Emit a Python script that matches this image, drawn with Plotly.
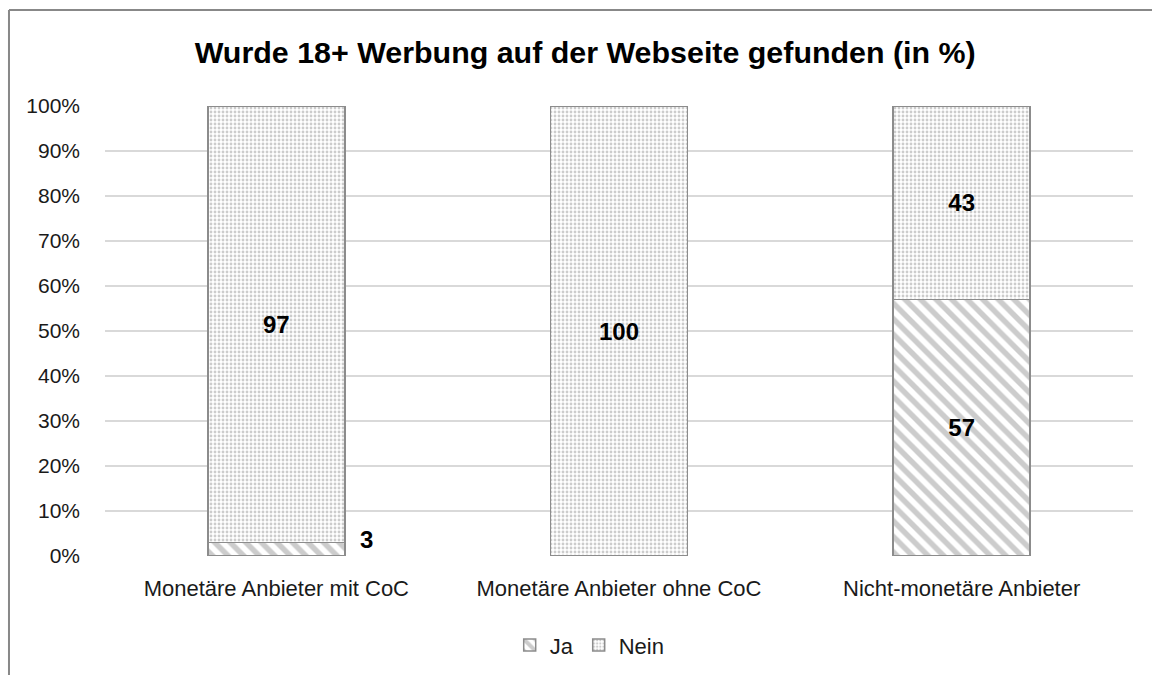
import plotly.graph_objects as go

categories = ["Monetäre Anbieter mit CoC", "Monetäre Anbieter ohne CoC", "Nicht-monetäre Anbieter"]
ja = [3, 0, 57]
nein = [97, 100, 43]
y_ticks = list(range(0, 101, 10))
y_ticklabels = [f"{v}%" for v in y_ticks]

font = "Liberation Sans, Arial, sans-serif"
outline = dict(color="#8c8c8c", width=1.5)


def inside_labels(vals):
    # small segments get an outside annotation instead
    return [str(v) if v >= 10 else "" for v in vals]


fig = go.Figure()
fig.add_trace(go.Bar(
    name="Ja", x=categories, y=ja,
    text=inside_labels(ja), textposition="inside", insidetextanchor="middle",
    textfont=dict(family=font, size=24, color="black", weight="bold"),
    marker=dict(color="white", line=outline,
                pattern=dict(shape="\\", fgcolor="#999999", bgcolor="white",
                             size=11, solidity=0.5)),
))
fig.add_trace(go.Bar(
    name="Nein", x=categories, y=nein,
    text=inside_labels(nein), textposition="inside", insidetextanchor="middle",
    textfont=dict(family=font, size=24, color="black", weight="bold"),
    marker=dict(color="white", line=outline,
                pattern=dict(shape=".", fgcolor="#999999", bgcolor="white",
                             size=4, solidity=0.4)),
))

# outside label for small segments
for cat, v in zip(categories, ja):
    if 0 < v < 10:
        fig.add_annotation(x=cat, y=v / 2, text=f"<b>{v}</b>", showarrow=False,
                           xshift=90, yshift=10,
                           font=dict(family=font, size=24, color="black"))

fig.update_layout(
    width=1152, height=675,
    barmode="stack", bargap=0.6,
    paper_bgcolor="white", plot_bgcolor="white",
    margin=dict(l=105, r=19, t=106, b=119),
    font=dict(family=font, size=21, color="#1a1a1a"),
    title=dict(text="<b>Wurde 18+ Werbung auf der Webseite gefunden (in %)</b>",
               x=0.508, xanchor="center", y=0.923, yanchor="middle",
               font=dict(family=font, size=30.4, color="black")),
    xaxis=dict(showgrid=False, showline=False, ticks="", automargin=False,
               ticklabelstandoff=17,
               tickfont=dict(family=font, size=22, color="#1a1a1a")),
    yaxis=dict(range=[0, 100], tickvals=y_ticks, ticktext=y_ticklabels,
               showgrid=True, gridcolor="#d9d9d9", gridwidth=1.5,
               zeroline=False, showline=False, ticks="", ticklabelstandoff=24,
               automargin=False,
               tickfont=dict(family=font, size=21, color="#1a1a1a")),
    legend=dict(orientation="h", x=0.4715, xanchor="center",
                yref="container", y=0.044, yanchor="middle",
                font=dict(family=font, size=22, color="#1a1a1a"),
                itemwidth=30, traceorder="normal"),
    shapes=[
        dict(type="line", xref="paper", yref="paper", x0=-0.0934, x1=-0.0934,
             y0=1.2133, y1=-0.3, line=dict(color="#888888", width=2)),
        dict(type="line", xref="paper", yref="paper", x0=-0.0934, x1=1.03,
             y0=1.2133, y1=1.2133, line=dict(color="#888888", width=2)),
    ],
)

# drop the default page margin so the figure sits at the window's corner
fig.write_html("out.html", config={"displayModeBar": False},
               post_script="document.body.style.margin='0';")
